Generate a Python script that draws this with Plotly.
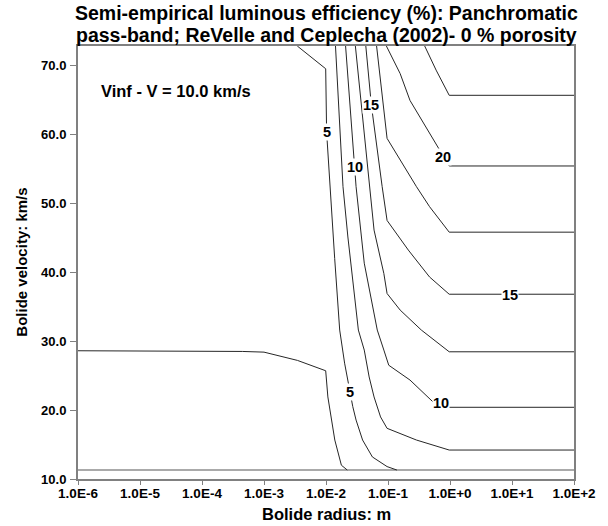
import numpy as np
import plotly.graph_objects as go

# ---- data (log10 radius [m], velocity [km/s]) ----
x_tick_exp = [-6, -5, -4, -3, -2, -1, 0, 1, 2]
x_tick_labels = ["1.0E-6", "1.0E-5", "1.0E-4", "1.0E-3", "1.0E-2", "1.0E-1", "1.0E+0", "1.0E+1", "1.0E+2"]
y_tick_vals = [10, 20, 30, 40, 50, 60, 70]
y_tick_labels = ["10.0", "20.0", "30.0", "40.0", "50.0", "60.0", "70.0"]

lev2_5_logr = [-6.0, -4.0, -3.35, -3.0, -2.46, -2.005, -1.97, -1.858, -1.752, -1.657]
lev2_5_v    = [28.6, 28.55, 28.5, 28.4, 27.2, 25.7, 21.9, 15.65, 12.0, 11.3]

lev5_logr = [-2.463, -2.005, -1.99, -1.937, -1.86, -1.779, -1.70, -1.568, -1.515, -1.41, -1.252, -1.015, -0.857]
lev5_v    = [72.8, 69.5, 60.3, 52.4, 42.0, 31.6, 26.8, 20.5, 18.55, 15.65, 13.2, 11.8, 11.3]

lev7_5_logr = [-1.847, -1.726, -1.647, -1.478, -1.383, -1.304, -1.225, -1.12, -1.015, -0.541, -0.013, 2.0]
lev7_5_v    = [72.8, 52.4, 45.1, 31.6, 28.7, 24.8, 21.9, 19.0, 17.35, 15.65, 14.2, 14.2]

lev10_logr = [-1.684, -1.54, -1.515, -1.383, -1.173, -1.067, -0.988, -0.645, -0.277, -0.013, 2.0]
lev10_v    = [72.8, 55.3, 52.4, 41.3, 31.6, 28.7, 26.5, 24.35, 21.2, 20.4, 20.4]

lev12_5_logr = [-1.526, -1.304, -1.225, -1.067, -1.015, -0.804, -0.462, -0.013, 2.0]
lev12_5_v    = [72.8, 52.4, 46.1, 39.8, 36.9, 34.5, 31.6, 28.45, 28.45]

lev15_logr = [-1.358, -1.268, -1.094, -1.015, -0.672, -0.33, -0.013, 2.0]
lev15_v    = [72.8, 64.2, 52.4, 47.5, 43.2, 39.3, 36.8, 36.8]

lev17_5_logr = [-1.184, -1.015, -0.541, -0.33, -0.013, 2.0]
lev17_5_v    = [72.8, 59.4, 52.4, 49.5, 45.8, 45.8]

lev20_logr = [-1.026, -0.804, -0.645, -0.198, -0.013, 2.0]
lev20_v    = [72.8, 68.8, 64.9, 58.2, 55.4, 55.4]

lev22_5_logr = [-0.408, -0.224, -0.013, 2.0]
lev22_5_v    = [72.8, 69.3, 65.65, 65.65]

floor_logr = [-6.0, 2.0]
floor_v    = [11.3, 11.3]

label_text = ["5", "10", "15", "20", "15", "10", "5"]
label_logr = [-1.99, -1.54, -1.268, -0.119, 0.962, -0.145, -1.61]
label_v    = [60.3, 55.3, 64.2, 56.7, 36.7, 21.0, 22.65]

title_lines = ["Semi-empirical luminous efficiency (%): Panchromatic",
               "pass-band; ReVelle and Ceplecha (2002)- 0 % porosity"]

FONT = "Arial, Liberation Sans, sans-serif"

W, H = 608, 526
L, R, T, B = 78, 24, 46, 47
PH = H - T - B  # plot height in px
PW = W - L - R


def py(fig_y):
    return (H - B - fig_y) / PH


def px(fig_x):
    return (fig_x - L) / PW


fig = go.Figure()

fig.add_trace(go.Scatter(x=10 ** np.array(floor_logr), y=floor_v, mode="lines",
                         line=dict(color="#aaaaaa", width=2), showlegend=False, hoverinfo="skip"))

contours = [
    (lev2_5_logr, lev2_5_v), (lev5_logr, lev5_v), (lev7_5_logr, lev7_5_v),
    (lev10_logr, lev10_v), (lev12_5_logr, lev12_5_v), (lev15_logr, lev15_v),
    (lev17_5_logr, lev17_5_v), (lev20_logr, lev20_v), (lev22_5_logr, lev22_5_v),
]
for lr, vv in contours:
    fig.add_trace(go.Scatter(x=10 ** np.array(lr), y=vv, mode="lines",
                             line=dict(color="#262626", width=1), showlegend=False, hoverinfo="skip"))

annotations = []
for t, lr, vv in zip(label_text, label_logr, label_v):
    annotations.append(dict(x=lr, y=vv, xref="x", yref="y", text=t, showarrow=False,
                            bgcolor="white", borderpad=0,
                            font=dict(family=FONT, size=14.5, color="black", weight="bold")))

annotations.append(dict(x=px(99), y=py(91), xref="paper", yref="paper",
                        xanchor="left", yanchor="middle", text="Vinf - V = 10.0 km/s", showarrow=False,
                        font=dict(family=FONT, size=16.5, color="black", weight="bold")))
annotations.append(dict(x=0.5, y=py(514), xref="paper", yref="paper",
                        xanchor="center", yanchor="middle", text="Bolide radius: m", showarrow=False,
                        font=dict(family=FONT, size=16.5, color="black", weight="bold")))
annotations.append(dict(x=px(20), y=0.5, xref="paper", yref="paper", textangle=-90,
                        xanchor="center", yanchor="middle", text="Bolide velocity: km/s", showarrow=False,
                        font=dict(family=FONT, size=15, color="black", weight="bold")))
annotations.append(dict(x=0.5, y=py(13), xref="paper", yref="paper",
                        xanchor="center", yanchor="middle", text=title_lines[0], showarrow=False,
                        font=dict(family=FONT, size=19.5, color="black", weight="bold")))
annotations.append(dict(x=0.5, y=py(35), xref="paper", yref="paper",
                        xanchor="center", yanchor="middle", text=title_lines[1], showarrow=False,
                        font=dict(family=FONT, size=19.5, color="black", weight="bold")))

fig.update_layout(
    width=W, height=H,
    margin=dict(l=L, r=R, t=T, b=B),
    paper_bgcolor="white", plot_bgcolor="white",
    annotations=annotations,
    xaxis=dict(type="log", range=[-6, 2], tickvals=[10.0 ** e for e in x_tick_exp], ticktext=x_tick_labels,
               showgrid=False, zeroline=False, showline=True, mirror=True, linecolor="#808080", linewidth=2,
               ticks="outside", ticklen=4, tickcolor="#808080", tickwidth=1, ticklabelstandoff=-3,
               tickfont=dict(family=FONT, size=13.5, color="black", weight="bold")),
    yaxis=dict(range=[10, 72.8], tickvals=y_tick_vals, ticktext=y_tick_labels,
               showgrid=False, zeroline=False, showline=True, mirror=True, linecolor="#808080", linewidth=2,
               ticks="outside", ticklen=6, tickcolor="#808080", tickwidth=1, ticklabelstandoff=1,
               tickfont=dict(family=FONT, size=13, color="black", weight="bold")),
)

fig.write_html("out.html", config={"displayModeBar": False},
               post_script="document.body.style.margin='0';document.body.style.overflow='hidden';")
